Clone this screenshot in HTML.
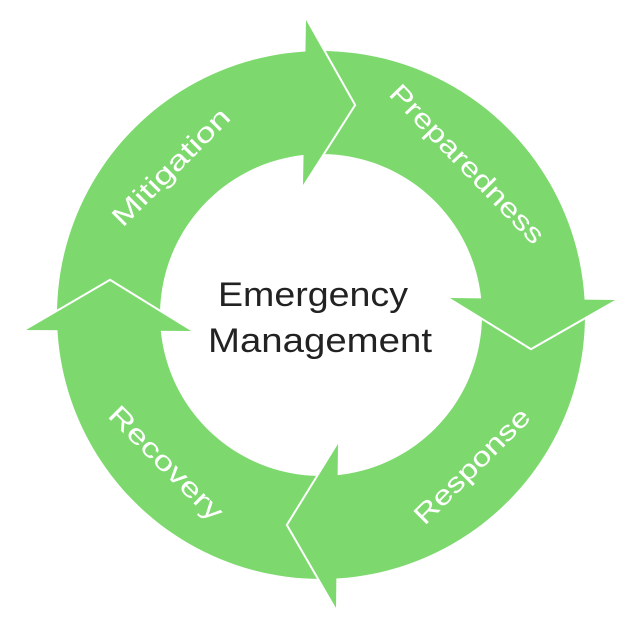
<!DOCTYPE html>
<html><head><style>html,body{margin:0;padding:0;background:#fff}</style></head>
<body>
<svg width="640" height="628" viewBox="0 0 640 628" xmlns="http://www.w3.org/2000/svg">
<defs>
<clipPath id="ring"><path clip-rule="evenodd" d="M321,51 a264,264 0 1,1 -0.01,0 Z M321,154 a161,161 0 1,0 0.01,0 Z"/></clipPath>
</defs>
<path fill="#7dd96d" fill-rule="evenodd" d="M321,51 a264,264 0 1,1 -0.01,0 Z M321,154 a161,161 0 1,0 0.01,0 Z"/>
<g clip-path="url(#ring)" fill="none" stroke="#fff" stroke-width="4">
<polyline points="306,20 354,105 303,185"/>
<polyline points="450,298 531,348 615,300"/>
<polyline points="338,444 288,525 336,608"/>
<polyline points="26,330 110,281 191,331"/>
</g>
<g fill="#7dd96d">
<polygon points="306,20 354,105 303,185"/>
<polygon points="450,298 531,348 615,300"/>
<polygon points="338,444 288,525 336,608"/>
<polygon points="26,330 110,281 191,331"/>
</g>
<g fill="#fff" font-family="Liberation Sans, sans-serif" font-size="27" text-anchor="middle">
<text transform="translate(171,167) rotate(-45)" dy="9" textLength="155" lengthAdjust="spacingAndGlyphs">Mitigation</text>
<text transform="translate(467,164) rotate(46)" dy="9" textLength="210" lengthAdjust="spacingAndGlyphs">Preparedness</text>
<text transform="translate(472,466) rotate(-45)" dy="9" textLength="152" lengthAdjust="spacingAndGlyphs">Response</text>
<text transform="translate(166,463) rotate(45)" dy="9" textLength="150" lengthAdjust="spacingAndGlyphs">Recovery</text>
</g>
<g fill="#222" font-family="Liberation Sans, sans-serif" font-size="34">
<text x="218" y="306" textLength="190" lengthAdjust="spacingAndGlyphs">Emergency</text>
<text x="208" y="352" textLength="224" lengthAdjust="spacingAndGlyphs">Management</text>
</g>
</svg>
</body></html>
